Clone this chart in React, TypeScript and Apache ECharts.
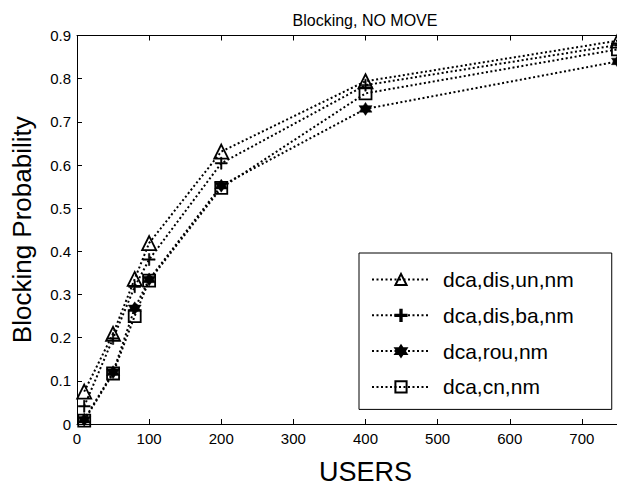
import React, { useEffect, useRef } from "react";
import * as echarts from "echarts";

const users = [10, 50, 80, 100, 200, 400, 750];
const disUn = [0.075, 0.209, 0.336, 0.419, 0.631, 0.794, 0.888];
const disBa = [0.041, 0.198, 0.318, 0.381, 0.604, 0.785, 0.878];
const rou = [0.01, 0.12, 0.268, 0.335, 0.552, 0.73, 0.84];
const cn = [0.008, 0.117, 0.25, 0.332, 0.547, 0.766, 0.868];
const seriesNames = ["dca,dis,un,nm", "dca,dis,ba,nm", "dca,rou,nm", "dca,cn,nm"];
const xTickLabels = ["0", "100", "200", "300", "400", "500", "600", "700"];

const FONT = "Liberation Sans, Arial, Helvetica, sans-serif";
const PLUS = "path://M4.4,0h1.2v4.4h4.4v1.2h-4.4v4.4h-1.2v-4.4h-4.4v-1.2h4.4z";
const HEX = "path://M5,0L9.33,7.5L0.67,7.5Z M5,10L0.67,2.5L9.33,2.5Z";

export default function App() {
  const ref = useRef<HTMLDivElement>(null);
  useEffect(() => {
    if (!ref.current) return;
    const chart = echarts.init(ref.current, undefined, { renderer: "svg" });
    const pair = (ys: number[]) => users.map((u, i) => [u, ys[i]]);
    const line = { color: "#000", width: 2, type: [2, 2.5] as any };
    const mk = (name: string, ys: number[], symbol: string, size: number, filled: boolean, z: number) => ({
      name,
      type: "line",
      data: pair(ys),
      symbol,
      symbolSize: size,
      showAllSymbol: true,
      z,
      lineStyle: line,
      itemStyle: filled
        ? { color: "#000", borderColor: "#000", borderWidth: 0.5 }
        : { color: "rgba(255,255,255,0)", borderColor: "#000", borderWidth: 1.8 },
      emphasis: { disabled: true },
    });
    chart.setOption({
      animation: false,
      backgroundColor: "#fff",
      textStyle: { fontFamily: FONT },
      graphic: [
        {
          type: "text",
          x: 365,
          y: 20,
          style: {
            text: "Blocking, NO MOVE",
            fill: "#000",
            font: `16px ${FONT}`,
            textAlign: "center",
            textVerticalAlign: "middle",
          },
        },
      ],
      grid: { left: 77, top: 35.5, width: 577, height: 407.5, containLabel: false },
      legend: {
        orient: "vertical",
        left: 359,
        top: 253,
        data: seriesNames,
        backgroundColor: "#fff",
        borderColor: "#000",
        borderWidth: 1,
        padding: [16, 38, 12, 12],
        itemWidth: 58,
        itemHeight: 14,
        itemGap: 14.8,
        textStyle: { fontSize: 21, lineHeight: 21, color: "#000", fontFamily: FONT, padding: [0, 0, 0, 8] },
      },
      xAxis: [
        {
          type: "value",
          min: 0,
          max: 800,
          interval: 100,
          position: "bottom",
          axisLine: { show: true, onZero: false, lineStyle: { color: "#000", width: 1 } },
          axisTick: { show: true, inside: true, length: 5, lineStyle: { color: "#000" } },
          axisLabel: {
            fontSize: 15,
            color: "#000",
            margin: 7,
            fontFamily: FONT,
            formatter: (v: number) => xTickLabels[Math.round(v / 100)] ?? "",
          },
          splitLine: { show: false },
          name: "USERS",
          nameLocation: "middle",
          nameGap: 34,
          nameTextStyle: { fontSize: 27, color: "#000", fontFamily: FONT },
        },
        {
          type: "value",
          min: 0,
          max: 800,
          interval: 100,
          position: "top",
          axisLine: { show: true, onZero: false, lineStyle: { color: "#000", width: 1 } },
          axisTick: { show: true, inside: true, length: 5, lineStyle: { color: "#000" } },
          axisLabel: { show: false },
          splitLine: { show: false },
        },
      ],
      yAxis: [
        {
          type: "value",
          min: 0,
          max: 0.9,
          interval: 0.1,
          axisLine: { show: true, onZero: false, lineStyle: { color: "#000", width: 1 } },
          axisTick: { show: true, inside: true, length: 5, lineStyle: { color: "#000" } },
          axisLabel: { fontSize: 15, color: "#000", margin: 6, fontFamily: FONT },
          splitLine: { show: false },
          name: "Blocking Probability",
          nameLocation: "middle",
          nameGap: 42,
          nameTextStyle: { fontSize: 26, color: "#000", fontFamily: FONT },
        },
      ],
      series: [
        mk(seriesNames[0], disUn, "triangle", 14, false, 4),
        mk(seriesNames[1], disBa, PLUS, 12, true, 3),
        mk(seriesNames[2], rou, HEX, 13, true, 2),
        mk(seriesNames[3], cn, "rect", 12, false, 5),
      ],
    });
    return () => chart.dispose();
  }, []);
  return (
    <div style={{ position: "fixed", left: 0, top: 0, width: 617, height: 490, overflow: "hidden", background: "#fff" }}>
      <div ref={ref} style={{ width: 700, height: 490 }} />
    </div>
  );
}
